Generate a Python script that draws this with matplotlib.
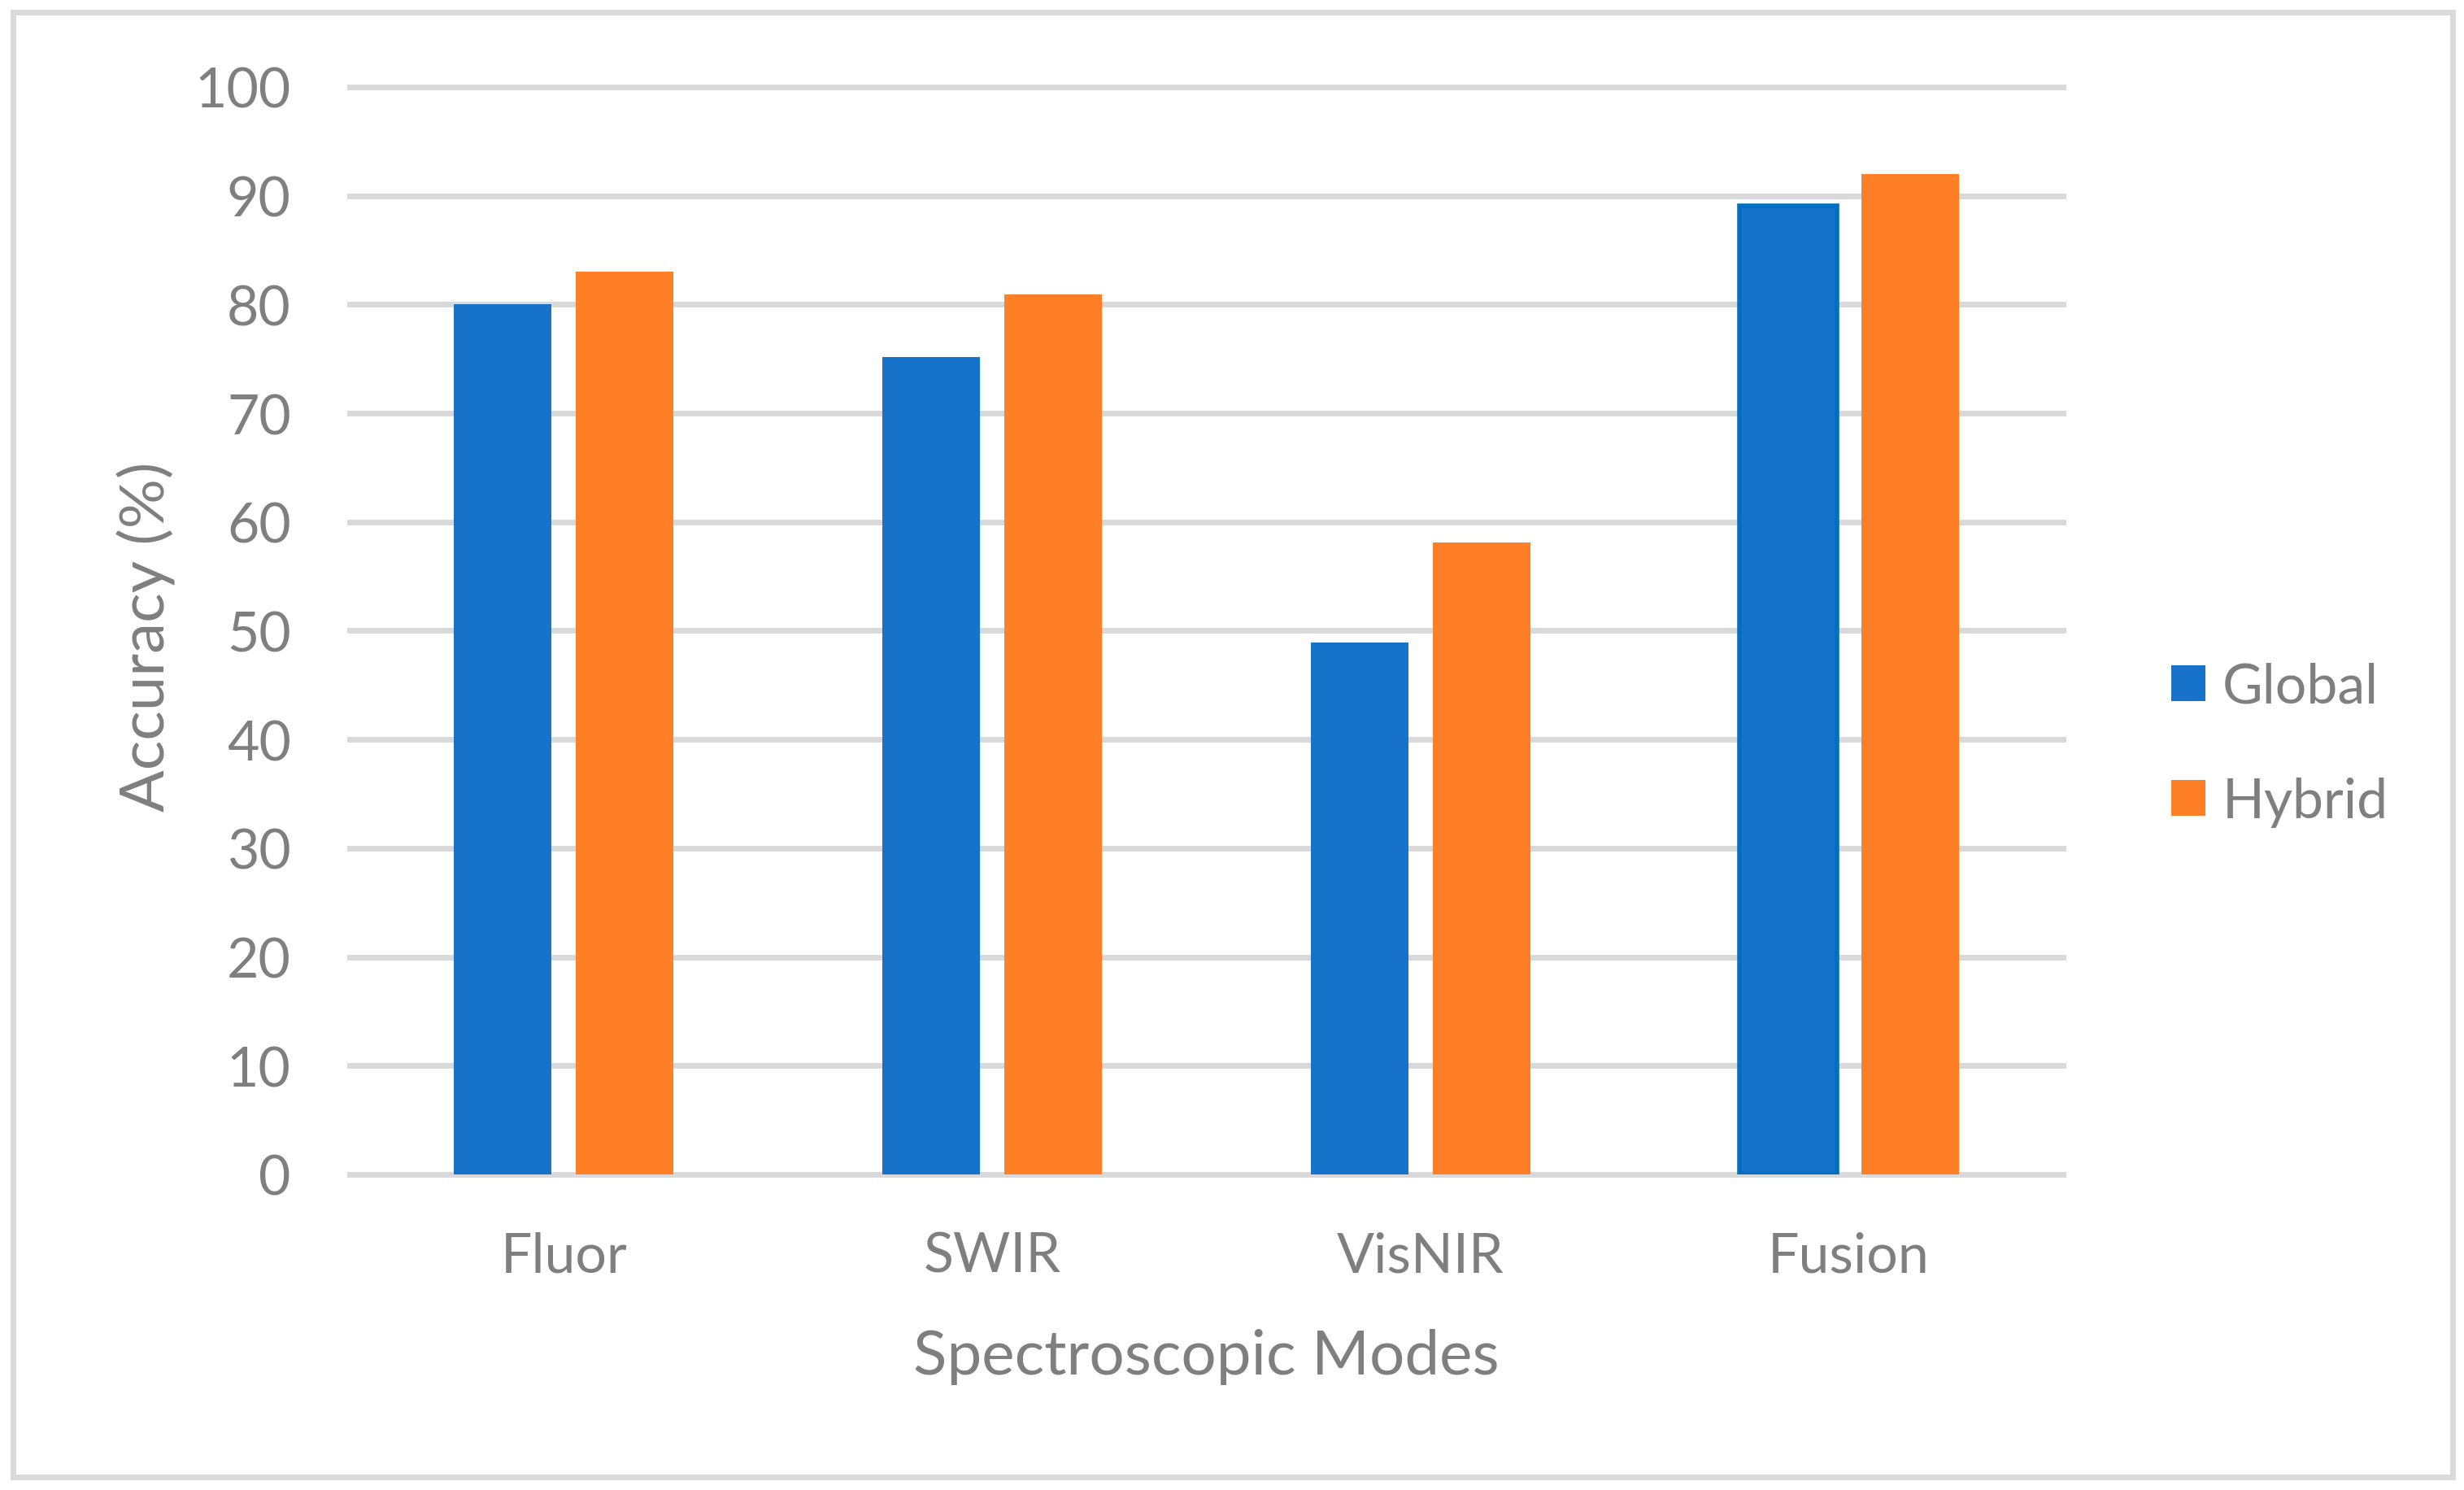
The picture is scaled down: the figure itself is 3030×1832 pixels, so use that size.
import numpy as np
import matplotlib.pyplot as plt
from matplotlib.patches import Rectangle, Patch

modes = ["Fluor", "SWIR", "VisNIR", "Fusion"]
global_acc = [80.0, 75.2, 48.9, 89.1]
hybrid_acc = [83.0, 80.9, 58.1, 92.0]
y_ticks = [0, 10, 20, 30, 40, 50, 60, 70, 80, 90, 100]

blue = "#1773C9"
orange = "#FF7F27"
grey_txt = "#7F7F7F"
grey_line = "#D9D9D9"

plt.rcParams['font.family'] = ['Lato', 'DejaVu Sans']

fig = plt.figure(figsize=(15.15, 9.165), dpi=200)
ax = fig.add_axes([0.1419, 0.2117, 0.6954, 0.7294])

x = np.arange(len(modes))
w = 0.228
off = 0.1424
bars_g = ax.bar(x - off, global_acc, w, color=blue, label="Global", zorder=3)
bars_h = ax.bar(x + off, hybrid_acc, w, color=orange, label="Hybrid", zorder=3)
# the fusion bar is drawn with an outline in the original
bars_g[3].set_edgecolor("#0070C0")
bars_g[3].set_linewidth(2.0)

ax.set_xlim(-0.5, len(modes) - 0.5)
ax.set_ylim(0, 100)
ax.set_yticks(y_ticks)
ax.set_xticks(x)
ax.set_xticklabels(modes)

for s in ax.spines.values():
    s.set_visible(False)
ax.grid(axis='y', color=grey_line, linewidth=2.5, zorder=0)
for ln in ax.get_ygridlines():
    ln.set_clip_on(False)

ax.tick_params(axis='both', length=0, labelsize=24.5, labelcolor=grey_txt)
ax.tick_params(axis='y', pad=26)
ax.tick_params(axis='x', pad=25)

fig.text(180 / 3030, 1 - 783 / 1833, "Accuracy (%)", rotation=90, ha='center', va='center',
         fontsize=27.5, color=grey_txt)
fig.text(0.5 * (430 + 2537) / 3030, 1 - 1690 / 1833, "Spectroscopic Modes", ha='center',
         va='baseline', fontsize=27.5, color=grey_txt)

handles = [Patch(facecolor=blue), Patch(facecolor=orange)]
fig.legend(handles, ["Global", "Hybrid"], loc='center left', bbox_to_anchor=(2670 / 3030, 0.5),
           frameon=False, fontsize=24.5, handlelength=0.62, handleheight=0.62,
           handletextpad=0.3, labelspacing=1.17, borderpad=0, borderaxespad=0,
           labelcolor=grey_txt)

# outer chart border
fig.patches.append(Rectangle((16 / 3030, 16 / 1833), 3000 / 3030, 1801 / 1833,
                             transform=fig.transFigure, fill=False,
                             edgecolor=grey_line, linewidth=2.5))

fig.savefig("out.png", dpi=200, facecolor='white')
